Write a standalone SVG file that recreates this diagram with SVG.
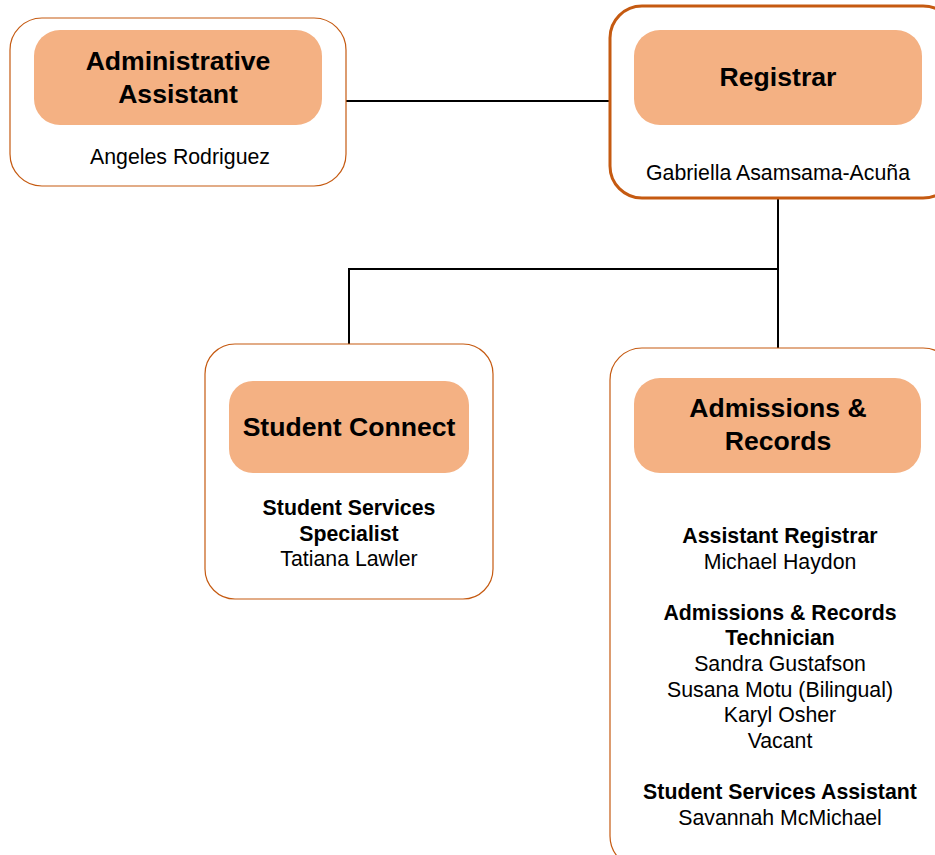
<svg xmlns="http://www.w3.org/2000/svg" width="935" height="855" viewBox="0 0 935 855">
<style>
.outer{fill:#fff;stroke:#C55A11;stroke-width:1.2}
.outer.thick{stroke-width:3}
.inner{fill:#F4B183}
.title{font-family:"Liberation Sans",Arial,sans-serif;font-weight:bold;font-size:26.6px;fill:#000;text-anchor:middle}
.t{font-family:"Liberation Sans",Arial,sans-serif;font-size:21.3px;fill:#000;text-anchor:middle}
.b{font-weight:bold}
.conn{stroke:#000;stroke-width:2;fill:none}
</style>
<rect width="935" height="855" fill="#fff"/>
<g id="connectors">
<line class="conn" x1="346" y1="101" x2="610" y2="101"/>
<polyline class="conn" points="778,198 778,348"/>
<polyline class="conn" points="778,269 349,269 349,344"/>
</g>
<g id="admin-assistant">
<rect class="outer" x="10" y="18" width="336" height="168" rx="32"/>
<rect class="inner" x="34" y="30" width="288" height="95" rx="26"/>
<text class="title" x="178" y="70">Administrative</text>
<text class="title" x="178" y="103">Assistant</text>
<text class="t" x="180" y="164">Angeles Rodriguez</text>
</g>
<g id="registrar">
<rect class="outer thick" x="610" y="6" width="345" height="192" rx="32"/>
<rect class="inner" x="634" y="30" width="288" height="95" rx="26"/>
<text class="title" x="778" y="86">Registrar</text>
<text class="t" x="778" y="180">Gabriella Asamsama-Acuña</text>
</g>
<g id="student-connect">
<rect class="outer" x="205" y="344" width="288" height="255" rx="30"/>
<rect class="inner" x="229" y="381" width="240" height="92" rx="24"/>
<text class="title" x="349" y="436">Student Connect</text>
<text class="t b" x="349" y="515">Student Services</text>
<text class="t b" x="349" y="541">Specialist</text>
<text class="t" x="349" y="566">Tatiana Lawler</text>
</g>
<g id="admissions-records">
<rect class="outer" x="610" y="348" width="345" height="520" rx="32"/>
<rect class="inner" x="634" y="378" width="287" height="95" rx="26"/>
<text class="title" x="778" y="417">Admissions &amp;</text>
<text class="title" x="778" y="450">Records</text>
<text class="t b" x="780" y="543">Assistant Registrar</text>
<text class="t" x="780" y="569">Michael Haydon</text>
<text class="t b" x="780" y="620">Admissions &amp; Records</text>
<text class="t b" x="780" y="645">Technician</text>
<text class="t" x="780" y="671">Sandra Gustafson</text>
<text class="t" x="780" y="697">Susana Motu (Bilingual)</text>
<text class="t" x="780" y="722">Karyl Osher</text>
<text class="t" x="780" y="748">Vacant</text>
<text class="t b" x="780" y="799">Student Services Assistant</text>
<text class="t" x="780" y="825">Savannah McMichael</text>
</g>
</svg>
